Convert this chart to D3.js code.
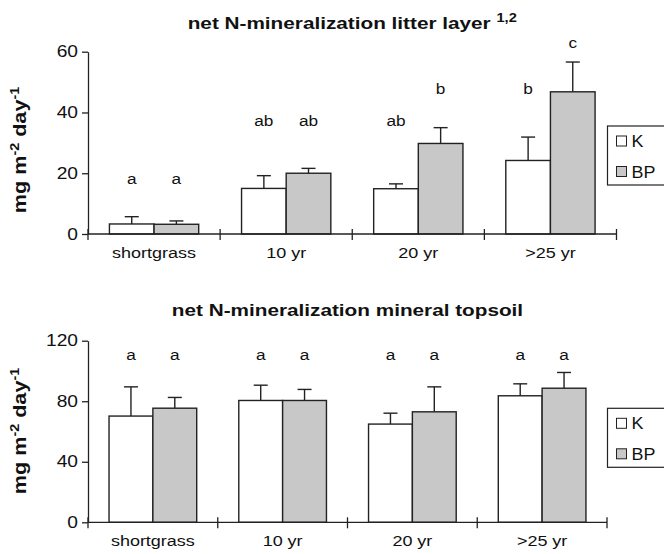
<!DOCTYPE html>
<html>
<head>
<meta charset="utf-8">
<script src="https://cdn.jsdelivr.net/npm/d3@7"></script>
<style>
  body { margin: 0; background: #fff; }
  text { font-family: "Liberation Sans", Arial, sans-serif; fill: #111; }
</style>
</head>
<body>
<div id="chart"></div>
<script>
// Size of the page
var width = 664, height = 554;

// Categories and series
var categories = ["shortgrass", "10 yr", "20 yr", ">25 yr"];
var seriesNames = ["K", "BP"];

// Litter layer, mg m-2 day-1 (mean and SE)
var litterK = [3.3, 15.0, 14.9, 24.2];
var litterKErr = [2.4, 4.2, 1.6, 7.7];
var litterBP = [3.2, 20.0, 29.8, 46.8];
var litterBPErr = [1.1, 1.6, 5.2, 9.8];
var litterKLetters = ["a", "ab", "ab", "b"];
var litterBPLetters = ["a", "ab", "b", "c"];
var litterKLetterAt = [16.4, 35.5, 35.5, 46.0];
var litterBPLetterAt = [16.4, 35.5, 46.0, 61.1];
var litterTicks = [0, 20, 40, 60];

// Mineral topsoil, mg m-2 day-1 (mean and SE)
var topsoilK = [70.2, 80.5, 64.9, 83.6];
var topsoilKErr = [19.3, 10.1, 7.2, 7.9];
var topsoilBP = [75.4, 80.5, 73.0, 88.6];
var topsoilBPErr = [7.1, 7.3, 16.5, 10.4];
var topsoilKLetters = ["a", "a", "a", "a"];
var topsoilBPLetters = ["a", "a", "a", "a"];
var topsoilKLetterAt = [107, 107, 107, 107];
var topsoilBPLetterAt = [107, 107, 107, 107];
var topsoilTicks = [0, 40, 80, 120];

var fills = { K: "#ffffff", BP: "#c8c8c8" };
var ink = "#222";

var svg = d3.select("#chart").append("svg")
    .attr("width", width)
    .attr("height", height);

// widen text horizontally around its anchor point
function stretch(sel, k) {
  sel.each(function() {
    var t = d3.select(this);
    var x = +t.attr("x") || 0, y = +t.attr("y") || 0;
    t.attr("transform", "translate(" + x + "," + y + ") scale(" + k + ",1) translate(" + (-x) + "," + (-y) + ")");
  });
}

function drawPanel(p) {
  var g = svg.append("g");

  var x = d3.scaleBand()
      .domain(categories)
      .range([p.left, p.right])
      .padding(0);

  var xs = d3.scaleBand()
      .domain(seriesNames)
      .range([0, x.bandwidth()])
      .paddingInner(0)
      .paddingOuter(0.48);

  var y = d3.scaleLinear()
      .domain([0, p.ticks[p.ticks.length - 1]])
      .range([p.bottom, p.top]);

  // rows of data: one per bar
  var rows = [];
  categories.forEach(function(c, i) {
    rows.push({ cat: c, s: "K", v: p.K[i], e: p.KErr[i], l: p.KLetters[i], la: p.KLetterAt[i] });
    rows.push({ cat: c, s: "BP", v: p.BP[i], e: p.BPErr[i], l: p.BPLetters[i], la: p.BPLetterAt[i] });
  });

  function cx(d) { return x(d.cat) + xs(d.s) + xs.bandwidth() / 2; }

  // bars
  g.selectAll("rect.bar")
      .data(rows)
      .enter()
      .append("rect")
      .attr("class", "bar")
      .attr("x", function(d) { return x(d.cat) + xs(d.s); })
      .attr("y", function(d) { return y(d.v); })
      .attr("width", xs.bandwidth())
      .attr("height", function(d) { return y(0) - y(d.v); })
      .attr("fill", function(d) { return fills[d.s]; })
      .attr("stroke", ink)
      .attr("stroke-width", 1.4);

  // error bars (upper only)
  var err = g.selectAll("g.err")
      .data(rows)
      .enter()
      .append("g")
      .attr("class", "err")
      .attr("stroke", ink)
      .attr("stroke-width", 1.4);
  err.append("line")
      .attr("x1", cx).attr("x2", cx)
      .attr("y1", function(d) { return y(d.v); })
      .attr("y2", function(d) { return y(d.v + d.e); });
  err.append("line")
      .attr("x1", function(d) { return cx(d) - 7; })
      .attr("x2", function(d) { return cx(d) + 7; })
      .attr("y1", function(d) { return y(d.v + d.e); })
      .attr("y2", function(d) { return y(d.v + d.e); });

  // significance letters
  g.selectAll("text.letter")
      .data(rows)
      .enter()
      .append("text")
      .attr("class", "letter")
      .attr("x", cx)
      .attr("y", function(d) { return y(d.la); })
      .attr("text-anchor", "middle")
      .attr("font-size", 15)
      .text(function(d) { return d.l; })
      .call(stretch, 1.15);

  // y axis
  var yAxis = g.append("g")
      .attr("transform", "translate(" + p.left + ",0)")
      .call(d3.axisLeft(y).tickValues(p.ticks).tickSize(6).tickSizeOuter(0).tickPadding(4));
  yAxis.select(".domain").attr("stroke", ink).attr("stroke-width", 1.3);
  yAxis.selectAll(".tick line").attr("stroke", ink).attr("stroke-width", 1.3);
  yAxis.selectAll(".tick text")
      .attr("font-family", null)
      .attr("font-size", 16)
      .attr("fill", "#111")
      .call(stretch, 1.2);

  // x axis line with boundary ticks
  var xAxis = g.append("g").attr("stroke", ink).attr("stroke-width", 1.3);
  xAxis.append("line")
      .attr("x1", p.left).attr("x2", p.right)
      .attr("y1", y(0)).attr("y2", y(0));
  var bounds = categories.map(function(c) { return x(c); }).concat([x.range()[1]]);
  xAxis.selectAll("line.tk")
      .data(bounds)
      .enter()
      .append("line")
      .attr("class", "tk")
      .attr("x1", function(d) { return d; }).attr("x2", function(d) { return d; })
      .attr("y1", y(0) - 5).attr("y2", y(0) + 6);

  g.selectAll("text.cat")
      .data(categories)
      .enter()
      .append("text")
      .attr("class", "cat")
      .attr("x", function(d) { return x(d) + x.bandwidth() / 2; })
      .attr("y", y(0) + 24)
      .attr("text-anchor", "middle")
      .attr("font-size", 15)
      .text(function(d) { return d; })
      .call(stretch, 1.2);

  // title
  var title = g.append("text")
      .attr("x", (p.left + p.right) / 2)
      .attr("y", p.titleY)
      .attr("text-anchor", "middle")
      .attr("font-size", 17)
      .attr("font-weight", "bold");
  title.append("tspan").text(p.title);
  if (p.sup) {
    title.append("tspan").text(" ");
    title.append("tspan").attr("font-size", 12).attr("dy", -7).text(p.sup);
  }
  title.call(stretch, 1.22);

  // y label
  var lab = g.append("text")
      .attr("transform", "translate(26," + p.labelY + ") rotate(-90) scale(1.2,1)")
      .attr("text-anchor", "middle")
      .attr("font-size", 18)
      .attr("font-weight", "bold");
  lab.append("tspan").text("mg m");
  lab.append("tspan").attr("font-size", 12).attr("dy", -7).text("-2");
  lab.append("tspan").attr("dy", 7).text(" day");
  lab.append("tspan").attr("font-size", 12).attr("dy", -7).text("-1");

  // legend
  var leg = g.append("g").attr("transform", "translate(607.5," + p.legendY + ")");
  leg.append("rect")
      .attr("width", 80).attr("height", 59)
      .attr("fill", "#fff")
      .attr("stroke", ink).attr("stroke-width", 1.2);
  var item = leg.selectAll("g.item")
      .data(seriesNames)
      .enter()
      .append("g")
      .attr("class", "item")
      .attr("transform", function(d, i) { return "translate(0," + (15 + i * 30.5) + ")"; });
  item.append("rect")
      .attr("x", 9).attr("y", -5)
      .attr("width", 10).attr("height", 10)
      .attr("fill", function(d) { return fills[d]; })
      .attr("stroke", ink).attr("stroke-width", 1);
  item.append("text")
      .attr("x", 24).attr("y", 6)
      .attr("font-size", 16)
      .text(function(d) { return d; })
      .call(stretch, 1.12);
}

drawPanel({
  title: "net N-mineralization litter layer", sup: "1,2",
  left: 88, right: 616.5, top: 51.7, bottom: 234,
  ticks: litterTicks,
  K: litterK, KErr: litterKErr, BP: litterBP, BPErr: litterBPErr,
  KLetters: litterKLetters, BPLetters: litterBPLetters,
  KLetterAt: litterKLetterAt, BPLetterAt: litterBPLetterAt,
  titleY: 29, labelY: 150, legendY: 126
});

drawPanel({
  title: "net N-mineralization mineral topsoil",
  left: 88, right: 607, top: 340.7, bottom: 522.3,
  ticks: topsoilTicks,
  K: topsoilK, KErr: topsoilKErr, BP: topsoilBP, BPErr: topsoilBPErr,
  KLetters: topsoilKLetters, BPLetters: topsoilBPLetters,
  KLetterAt: topsoilKLetterAt, BPLetterAt: topsoilBPLetterAt,
  titleY: 316, labelY: 431, legendY: 408.3
});
</script>
</body>
</html>
